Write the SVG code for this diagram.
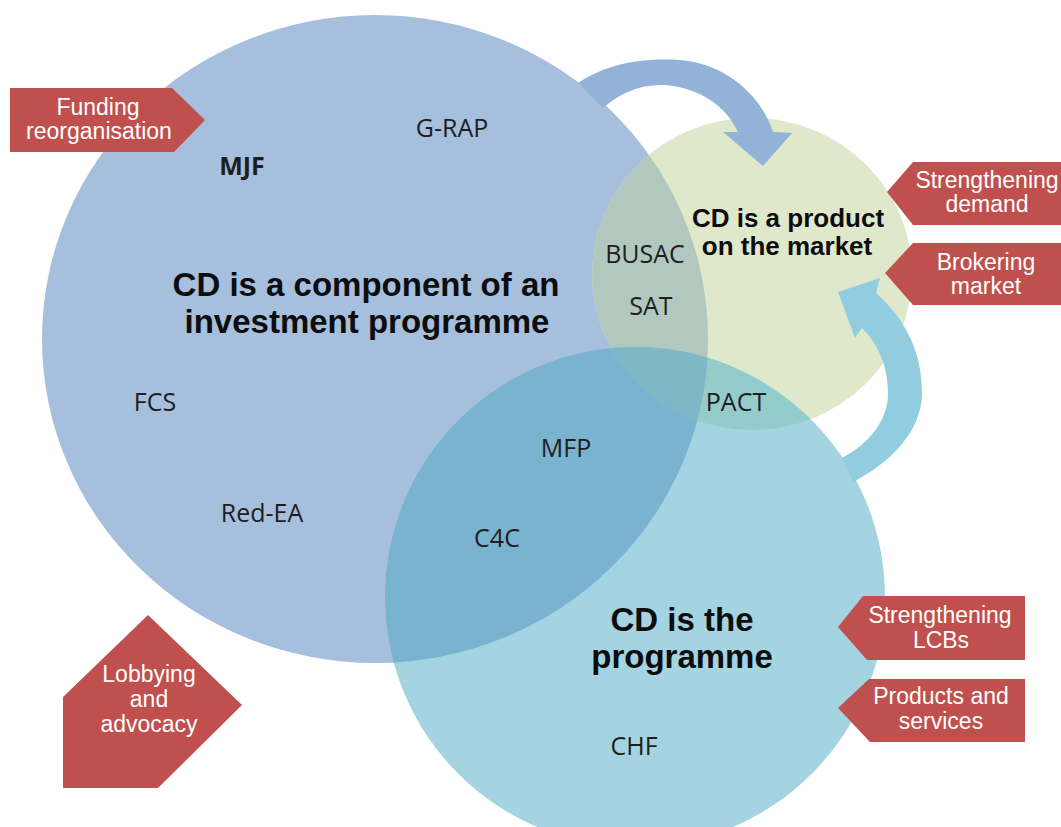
<svg xmlns="http://www.w3.org/2000/svg" width="1061" height="827" viewBox="0 0 1061 827">
  <style>
    .tag { fill: #C0504D; }
    .tag-text { font-family: "Liberation Sans", Arial, sans-serif; font-size: 23px; fill: #FFFFFF; text-anchor: middle; }
    .label { font-family: "Open Sans", "Noto Sans", sans-serif; font-size: 25px; fill: #1E1E1E; text-anchor: middle; }
    .title { font-family: "Liberation Sans", Arial, sans-serif; font-weight: bold; fill: #0D0D0D; text-anchor: middle; }
    .arrow-blue { fill: #93B2D7; }
    .arrow-teal { fill: #92CDDF; }
  </style>
  <defs>
    <clipPath id="clipBlue"><ellipse cx="375" cy="339" rx="333" ry="324"/></clipPath>
    <clipPath id="clipGreen"><ellipse cx="752" cy="274" rx="160" ry="156"/></clipPath>
  </defs>

  <rect width="1061" height="827" fill="#FFFFFF"/>

  <!-- Three overlapping sets -->
  <g id="set-investment">
    <ellipse cx="375" cy="339" rx="333" ry="324" fill="#A5BFDD"/>
  </g>
  <g id="set-market">
    <ellipse cx="752" cy="274" rx="160" ry="156" fill="#E0E8CB"/>
  </g>
  <g id="set-programme">
    <circle cx="635" cy="597" r="250" fill="#A4D4E2"/>
  </g>

  <!-- Overlap regions -->
  <g id="overlaps">
    <ellipse cx="752" cy="274" rx="160" ry="156" fill="#B2C8BE" clip-path="url(#clipBlue)"/>
    <circle cx="635" cy="597" r="250" fill="#7AB3CF" clip-path="url(#clipBlue)"/>
    <circle cx="635" cy="597" r="250" fill="#94CBCB" clip-path="url(#clipGreen)"/>
    <g clip-path="url(#clipBlue)">
      <circle cx="635" cy="597" r="250" fill="#7EB7C5" clip-path="url(#clipGreen)"/>
    </g>
  </g>

  <!-- Curved arrows between the sets -->
  <g id="connectors">
    <path class="arrow-blue" d="M578,83 C610,62 645,58 680,60 C722,63 760,92 773,132 L792,133 L763,166 L723,132 L738,132 C726,106 700,88 665,85 C640,84 620,93 603,108 Z"/>
    <path class="arrow-teal" d="M838,292 L880,278 L876,293 C902,316 922,348 922,393 C922,430 892,462 853,482 L842,458 C870,443 888,420 888,393 C888,366 878,344 862,328 L855,338 Z"/>
  </g>

  <!-- Set titles -->
  <g id="title-investment">
    <text class="title" font-size="33" x="366" y="296">CD is a component of an</text>
    <text class="title" font-size="33" x="367" y="333">investment programme</text>
  </g>
  <g id="title-market">
    <text class="title" font-size="26" x="788" y="227">CD is a product</text>
    <text class="title" font-size="26" x="787" y="255">on the market</text>
  </g>
  <g id="title-programme">
    <text class="title" font-size="33" x="682" y="631">CD is the</text>
    <text class="title" font-size="33" x="682" y="668">programme</text>
  </g>

  <!-- Programme labels -->
  <g id="label-grap"><text class="label" x="452" y="137">G-RAP</text></g>
  <g id="label-mjf"><text class="label" font-weight="bold" x="242" y="175">MJF</text></g>
  <g id="label-fcs"><text class="label" x="155" y="411">FCS</text></g>
  <g id="label-redea"><text class="label" x="262" y="522">Red-EA</text></g>
  <g id="label-busac"><text class="label" x="645" y="263">BUSAC</text></g>
  <g id="label-sat"><text class="label" x="651" y="315">SAT</text></g>
  <g id="label-pact"><text class="label" x="736" y="411">PACT</text></g>
  <g id="label-mfp"><text class="label" x="566" y="457">MFP</text></g>
  <g id="label-c4c"><text class="label" x="497" y="547">C4C</text></g>
  <g id="label-chf"><text class="label" x="634" y="755">CHF</text></g>

  <!-- Intervention tags -->
  <g id="tag-funding">
    <polygon class="tag" points="10,88 172,88 205,120 174,152 10,152"/>
    <text class="tag-text" x="98" y="115">Funding</text>
    <text class="tag-text" x="99" y="139">reorganisation</text>
  </g>
  <g id="tag-demand">
    <polygon class="tag" points="887,192 913,162 1061,162 1061,225 913,225"/>
    <text class="tag-text" x="987" y="188">Strengthening</text>
    <text class="tag-text" x="987" y="212">demand</text>
  </g>
  <g id="tag-brokering">
    <polygon class="tag" points="885,273 913,243 1061,243 1061,305 913,305"/>
    <text class="tag-text" x="986" y="270">Brokering</text>
    <text class="tag-text" x="986" y="294">market</text>
  </g>
  <g id="tag-lcbs">
    <polygon class="tag" points="838,627 863,596 1025,596 1025,660 867,660"/>
    <text class="tag-text" x="940" y="623">Strengthening</text>
    <text class="tag-text" x="941" y="648">LCBs</text>
  </g>
  <g id="tag-products">
    <polygon class="tag" points="838,708 869,679 1025,679 1025,742 870,742"/>
    <text class="tag-text" x="941" y="704">Products and</text>
    <text class="tag-text" x="941" y="729">services</text>
  </g>
  <g id="tag-lobbying">
    <polygon class="tag" points="148,615 242,705 158,788 63,788 63,697"/>
    <text class="tag-text" x="149" y="682">Lobbying</text>
    <text class="tag-text" x="149" y="707">and</text>
    <text class="tag-text" x="149" y="732">advocacy</text>
  </g>
</svg>
